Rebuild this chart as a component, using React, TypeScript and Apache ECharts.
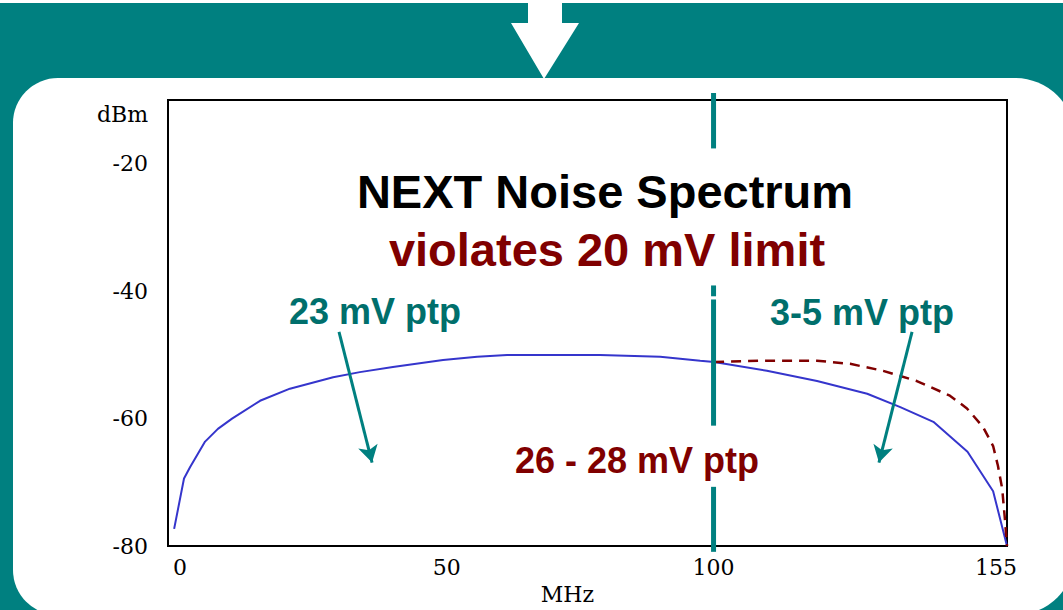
import React, { useEffect, useRef } from "react";
import * as echarts from "echarts";

// Measured curve (solid blue), MHz vs dBm
const blueFreq = [-1.1, 0.75, 1.9, 4.7, 7.1, 9.75, 15.0, 20.6, 28.7, 33.7, 39.9, 49.3, 55.7, 61.3, 71.2, 78.7, 90.0, 97.5, 100.1, 110.0, 119.4, 128.8, 135.0, 141.2, 147.6, 152.4, 155.0];
const blueDbm = [-77.3, -69.4, -67.6, -63.6, -61.6, -60.0, -57.2, -55.3, -53.5, -52.7, -51.9, -50.8, -50.3, -50.0, -50.0, -50.0, -50.3, -50.9, -51.1, -52.5, -54.1, -56.1, -58.2, -60.5, -65.2, -71.4, -80.0];

// Dashed dark-red curve
const dashFreq = [100.1, 110.0, 119.4, 125.6, 131.8, 138.1, 144.3, 147.5, 150.5, 152.4, 153.3, 154.1, 154.6, 155.0];
const dashDbm = [-51.1, -50.9, -50.9, -51.4, -52.5, -54.1, -56.4, -58.4, -61.3, -64.3, -67.4, -71.0, -75.7, -80.0];

// Axis tick labels
const xTicks = [0, 50, 100, 155];
const yTicks = [-80, -60, -40, -20];

// Divider at 100 MHz, broken into segments (dBm from/to)
const dividerFreq = 100;
const dividerSegments = [
  [-8.9, -17.6],
  [-39.1, -40.8],
  [-41.3, -61.1],
  [-70.7, -80.9],
];

// Annotation arrows [from, to] in [MHz, dBm]
const arrowLeft = [[29.8, -46.4], [36.0, -66.9]];
const arrowRight = [[137.2, -46.4], [131.0, -66.9]];

const TEAL = "#008080";
const TEAL_TEXT = "#006f6c";
const DARK_RED = "#800000";
const BLUE = "#3535cc";
const SANS = '"Liberation Sans", Arial, sans-serif';
const SERIF = '"DejaVu Serif", "Liberation Serif", serif';

function baseGraphics(): any[] {
  return [
    { type: "rect", z: -20, silent: true, shape: { x: 0, y: 3, width: 1063, height: 607 }, style: { fill: TEAL } },
    { type: "rect", z: -19, silent: true, shape: { x: 13, y: 78, width: 1062, height: 537, r: [45, 60, 60, 45] }, style: { fill: "#ffffff" } },
    {
      type: "polygon", z: -18, silent: true,
      shape: { points: [[528, 0], [562, 0], [562, 23], [579, 23], [544, 79], [511, 23], [528, 23]] },
      style: { fill: "#ffffff" },
    },
    {
      type: "text", z: 100, silent: true,
      style: { text: "23 mV ptp", x: 375, y: 311, align: "center", verticalAlign: "middle", fill: TEAL_TEXT, font: `bold 36px ${SANS}` },
    },
    {
      type: "text", z: 100, silent: true,
      style: { text: "3-5 mV ptp", x: 862, y: 312, align: "center", verticalAlign: "middle", fill: TEAL_TEXT, font: `bold 36px ${SANS}` },
    },
    {
      type: "text", z: 100, silent: true,
      style: { text: "26 - 28 mV ptp", x: 637, y: 460, align: "center", verticalAlign: "middle", fill: DARK_RED, font: `bold 36px ${SANS}` },
    },
    {
      type: "text", z: 100, silent: true,
      style: { text: "dBm", x: 148, y: 114, align: "right", verticalAlign: "middle", fill: "#000", font: `22px ${SERIF}` },
    },
  ];
}

export default function App() {
  const ref = useRef<HTMLDivElement>(null);

  useEffect(() => {
    document.body.style.margin = "0";
    if (!ref.current) return;
    const chart = echarts.init(ref.current, null, { renderer: "svg" });

    const labelStyle = { fontFamily: SERIF, fontSize: 22, color: "#000" };
    const option: any = {
      animation: false,
      backgroundColor: "#ffffff",
      title: [
        {
          text: "NEXT Noise Spectrum",
          left: 605, top: 167.5, textAlign: "center", padding: 0,
          textStyle: { fontFamily: SANS, fontWeight: "bold", fontSize: 47, lineHeight: 47, color: "#000" },
        },
        {
          text: "violates 20 mV limit",
          left: 607, top: 226, textAlign: "center", padding: 0,
          textStyle: { fontFamily: SANS, fontWeight: "bold", fontSize: 47, lineHeight: 47, color: DARK_RED },
        },
      ],
      grid: {
        left: 168, right: 56, top: 100, bottom: 62.5,
        show: true, borderColor: "#000", borderWidth: 2, backgroundColor: "transparent",
      },
      xAxis: {
        type: "value", min: -2.25, max: 155,
        name: "MHz", nameLocation: "middle", nameGap: 44.5,
        nameTextStyle: { fontFamily: SERIF, fontSize: 22, color: "#000", verticalAlign: "middle", padding: [0, 40, 0, 0] },
        axisLine: { show: false }, axisTick: { show: false }, splitLine: { show: false },
        axisLabel: {
          customValues: xTicks, margin: 10, ...labelStyle,
          formatter: (v: number) => (v === 155 ? `{last|${v}}` : `{n|${v}}`),
          rich: {
            n: { ...labelStyle },
            last: { ...labelStyle, padding: [0, 22, 0, 0] },
          },
        },
      },
      yAxis: {
        type: "value", min: -80, max: -10,
        axisLine: { show: false }, axisTick: { show: false }, splitLine: { show: false },
        axisLabel: { customValues: yTicks, margin: 20, ...labelStyle },
      },
      series: [
        {
          type: "line", name: "measured", data: blueFreq.map((f, i) => [f, blueDbm[i]]),
          showSymbol: false, symbol: "none", clip: false, silent: true,
          lineStyle: { color: BLUE, width: 2 }, z: 3,
        },
        {
          type: "line", name: "dashed", data: dashFreq.map((f, i) => [f, dashDbm[i]]),
          showSymbol: false, symbol: "none", clip: false, silent: true,
          lineStyle: { color: DARK_RED, width: 2.5, type: [10, 7] }, z: 3,
          markLine: {
            silent: true, animation: false,
            symbol: ["none", "arrow"], symbolSize: [15, 17],
            label: { show: false },
            lineStyle: { color: TEAL, width: 3, type: "solid" },
            emphasis: { disabled: true },
            data: [
              [{ coord: arrowLeft[0] }, { coord: arrowLeft[1] }],
              [{ coord: arrowRight[0] }, { coord: arrowRight[1] }],
            ],
          },
        },
      ],
      graphic: baseGraphics(),
    };
    chart.setOption(option);

    const dividers = dividerSegments.map(([a, b]) => {
      const p1 = chart.convertToPixel({ gridIndex: 0 }, [dividerFreq, a]) as number[];
      const p2 = chart.convertToPixel({ gridIndex: 0 }, [dividerFreq, b]) as number[];
      return {
        type: "line", z: 50, silent: true,
        shape: { x1: p1[0], y1: p1[1], x2: p2[0], y2: p2[1] },
        style: { stroke: TEAL, lineWidth: 5 },
      };
    });
    chart.setOption({ graphic: [...baseGraphics(), ...dividers] });

    return () => chart.dispose();
  }, []);

  return <div ref={ref} style={{ width: 1063, height: 610 }} />;
}
